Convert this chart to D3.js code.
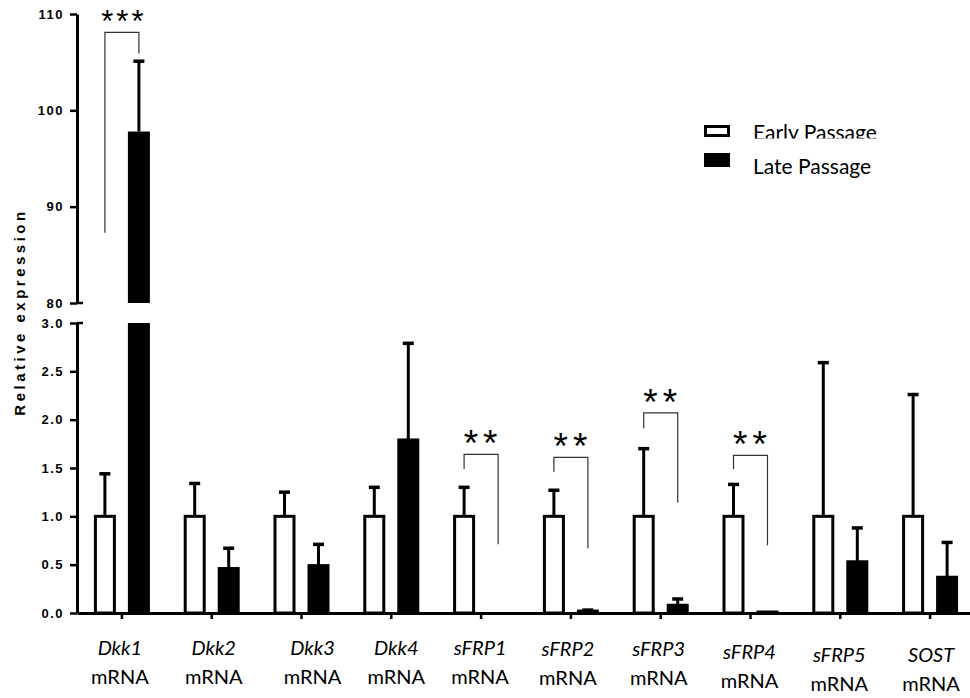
<!DOCTYPE html>
<html>
<head>
<meta charset="utf-8">
<script src="https://cdn.jsdelivr.net/npm/d3@7"></script>
<style>
  body { margin: 0; background: #fff; }
  svg { display: block; }
</style>
</head>
<body>
<svg id="chart" width="970" height="698"></svg>
<script>
// Genes and series
var genes = ["Dkk1", "Dkk2", "Dkk3", "Dkk4", "sFRP1", "sFRP2", "sFRP3", "sFRP4", "sFRP5", "SOST"];
var series = ["Early Passage", "Late Passage"];

// Means and (upper) SD
var earlyMean = [1, 1, 1, 1, 1, 1, 1, 1, 1, 1];
var earlyErr  = [0.44, 0.34, 0.25, 0.30, 0.30, 0.27, 0.70, 0.33, 1.59, 1.26];
var lateMean  = [97.8, 0.46, 0.49, 1.79, 0, 0.02, 0.08, 0.01, 0.53, 0.37];
var lateErr   = [7.3, 0.21, 0.22, 1.0, 0, 0.01, 0.065, 0, 0.35, 0.36];

// Axis ticks (broken y axis)
var lowTicks = [0, 0.5, 1.0, 1.5, 2.0, 2.5, 3.0];
var highTicks = [80, 90, 100, 110];

// Significance brackets (values in data units)
var sigGenes  = ["Dkk1", "sFRP1", "sFRP2", "sFRP3", "sFRP4"];
var sigLabels = ["***", "**", "**", "**", "**"];
var sigTop    = [108.1, 1.64, 1.61, 2.07, 1.63];
var sigLeft   = [87.3, 1.49, 1.46, 1.91, 1.49];
var sigRight  = [105.9, 0.71, 0.67, 1.14, 0.70];

var svg = d3.select("#chart");
var axisX = 77;

// Scales
var x0 = d3.scaleBand().domain(genes).range([77, 975]).padding(0);
var x1 = d3.scaleBand().domain(series).range([-28, 28]).paddingInner(0.353);
var yLow = d3.scaleLinear().domain([0, 3]).range([613, 323]);
var yHigh = d3.scaleLinear().domain([80, 110]).range([303, 14]);

function yPos(v) {
    return v >= 80 ? yHigh(v) : yLow(v);
}
function cx(gene, s) {
    return x0(gene) + x0.bandwidth() / 2 + x1(s) + x1.bandwidth() / 2;
}

var tickFont = "'Liberation Sans', Arial, sans-serif";
var labelFont = "Lato, 'Open Sans', sans-serif";

// Y axes (lower and upper segment)
function styleAxis(g) {
    g.select(".domain").attr("stroke-width", 3);
    g.selectAll(".tick line").attr("stroke-width", 2.5);
    g.selectAll(".tick text")
        .attr("font-family", tickFont)
        .attr("font-weight", "bold")
        .attr("font-size", 13)
        .attr("letter-spacing", "1.5px")
        .attr("fill", "#000");
}
svg.append("g")
    .attr("transform", "translate(" + axisX + ",0)")
    .call(d3.axisLeft(yLow).tickValues(lowTicks).tickFormat(d3.format(".1f"))
        .tickSize(7).tickSizeOuter(0).tickPadding(6))
    .call(styleAxis);
svg.append("g")
    .attr("transform", "translate(" + axisX + ",0)")
    .call(d3.axisLeft(yHigh).tickValues(highTicks).tickFormat(d3.format("d"))
        .tickSize(7).tickSizeOuter(0).tickPadding(6))
    .call(styleAxis);

// break ticks poke out on the right
[yLow(3), yHigh(80)].forEach(function(y) {
    svg.append("line")
        .attr("x1", axisX).attr("x2", axisX + 6)
        .attr("y1", y).attr("y2", y)
        .attr("stroke", "#000").attr("stroke-width", 2.5);
});

// Y label
svg.append("text")
    .attr("transform", "translate(25,312) rotate(-90)")
    .attr("text-anchor", "middle")
    .attr("font-family", tickFont)
    .attr("font-weight", "bold")
    .attr("font-size", 15)
    .attr("letter-spacing", "3.5px")
    .text("Relative expression");

// Bars
var barsG = svg.append("g");
genes.forEach(function(gene, i) {
    var vals = [earlyMean[i], lateMean[i]];
    var errs = [earlyErr[i], lateErr[i]];
    series.forEach(function(s, j) {
        var c = cx(gene, s);
        var w = x1.bandwidth();
        var v = vals[j];
        if (v <= 0) return;
        if (j === 0) {
            barsG.append("rect")
                .attr("x", c - w / 2 + 1.5).attr("width", w - 3)
                .attr("y", yLow(v)).attr("height", yLow(0) - yLow(v))
                .attr("fill", "#fff").attr("stroke", "#000").attr("stroke-width", 3);
        } else if (v > 3) {
            barsG.append("rect")
                .attr("x", c - w / 2).attr("width", w)
                .attr("y", yLow(3)).attr("height", yLow(0) - yLow(3))
                .attr("fill", "#000");
            barsG.append("rect")
                .attr("x", c - w / 2).attr("width", w)
                .attr("y", yHigh(v)).attr("height", yHigh(80) - yHigh(v))
                .attr("fill", "#000");
        } else {
            barsG.append("rect")
                .attr("x", c - w / 2).attr("width", w)
                .attr("y", yLow(v) - 1.5).attr("height", yLow(0) - yLow(v) + 1.5)
                .attr("fill", "#000");
        }
        // error bar (upper only)
        if (errs[j] > 0) {
            var top = yPos(v + errs[j]);
            barsG.append("line")
                .attr("x1", c).attr("x2", c)
                .attr("y1", yPos(v)).attr("y2", top)
                .attr("stroke", "#000").attr("stroke-width", 3);
            barsG.append("line")
                .attr("x1", c - 5.5).attr("x2", c + 5.5)
                .attr("y1", top).attr("y2", top)
                .attr("stroke", "#000").attr("stroke-width", 3.5);
        }
    });
});

// X axis
var xAxisG = svg.append("g")
    .attr("transform", "translate(0," + yLow(0) + ")")
    .call(d3.axisBottom(x0).tickSize(6).tickSizeOuter(0).tickFormat(""));
xAxisG.select(".domain").attr("stroke-width", 3);
xAxisG.selectAll(".tick line").attr("stroke-width", 2.5);

// X labels: italic gene name over "mRNA"
var labelDx = [-2, 2, 11, 5, -1, -3, -2, -1, -1, 1];
var labelDy = [0, 0, 0, 0, 0, 1, 1, 4, 7, 7];
genes.forEach(function(gene, i) {
    var x = x0(gene) + x0.bandwidth() / 2 + labelDx[i];
    var t = svg.append("text")
        .attr("text-anchor", "middle")
        .attr("font-family", labelFont)
        .attr("font-size", 20)
        .attr("fill", "#000");
    t.append("tspan").attr("x", x).attr("y", 655 + labelDy[i])
        .attr("font-style", "italic").text(gene);
    t.append("tspan").attr("x", x).attr("y", 684 + labelDy[i]).text("mRNA");
});

// Significance brackets
sigGenes.forEach(function(gene, i) {
    var xl = cx(gene, series[0]);
    var xr = cx(gene, series[1]);
    var yt = yPos(sigTop[i]);
    var big = sigLabels[i].length < 3;
    svg.append("path")
        .attr("d", "M" + xl + "," + yPos(sigLeft[i]) + "V" + yt + "H" + xr + "V" + yPos(sigRight[i]))
        .attr("fill", "none").attr("stroke", "#333").attr("stroke-width", 1.2);
    svg.append("text")
        .attr("x", (xl + xr) / 2 + 2)
        .attr("y", yt + (big ? 2 : 0))
        .attr("text-anchor", "middle")
        .attr("font-family", tickFont)
        .attr("font-size", big ? 37 : 31)
        .attr("letter-spacing", big ? "5px" : "3px")
        .text(sigLabels[i]);
});

// Legend
svg.append("clipPath").attr("id", "legclip")
    .append("rect").attr("x", 690).attr("y", 100).attr("width", 280).attr("height", 38.5);
var leg = svg.append("g");
leg.append("rect")
    .attr("x", 705.5).attr("y", 126.5).attr("width", 23).attr("height", 9)
    .attr("fill", "#fff").attr("stroke", "#000").attr("stroke-width", 3);
leg.append("rect")
    .attr("x", 704).attr("y", 153).attr("width", 26).attr("height", 14)
    .attr("fill", "#000");
leg.append("text")
    .attr("x", 753).attr("y", 139.5)
    .attr("clip-path", "url(#legclip)")
    .attr("font-family", labelFont).attr("font-size", 21)
    .text(series[0]);
leg.append("text")
    .attr("x", 753).attr("y", 174)
    .attr("font-family", labelFont).attr("font-size", 21)
    .text(series[1]);
</script>
</body>
</html>
